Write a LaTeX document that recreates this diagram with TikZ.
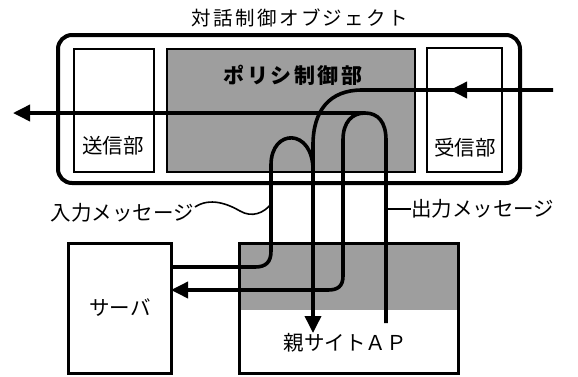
\documentclass[tikz,border=0pt]{standalone}
\usepackage{fontspec}
\newfontfamily\jp{Noto Sans CJK JP}
\newfontfamily\jpwide[LetterSpace=12]{Noto Sans CJK JP}
\usetikzlibrary{arrows.meta}
\tikzset{
  box/.style={draw=black, line width=2.6pt, inner sep=0pt, outer sep=0pt, anchor=north west},
  shade/.style={fill=black!38, draw=none, inner sep=0pt, outer sep=0pt, anchor=north west},
  lbl/.style={inner sep=0pt, font=\jp\fontsize{20.5}{20.5}\selectfont},
  conn/.style={line width=3.6pt, line join=round},
  tip/.style={-{Triangle[length=17pt,width=16pt]}},
  thinline/.style={line width=1.6pt}
}
\begin{document}
\begin{tikzpicture}[x=1pt,y=-1pt]
\useasboundingbox (0,0) rectangle (578,376);
% title
\node[lbl, font=\jpwide\fontsize{19.5}{19.5}\selectfont] (title) at (300,18) {対話制御オブジェクト};
% outer object
\node[box, line width=4pt, rounded corners=14pt, minimum width=462pt, minimum height=148pt] (obj) at (58,35) {};
% inner parts
\node[box, minimum width=80pt, minimum height=123pt] (send) at (74,49) {};
\node[box, line width=2pt, fill=black!38, minimum width=248pt, minimum height=123pt] (policy) at (167,49) {};
\node[box, minimum width=75pt, minimum height=124pt] (recv) at (427,48) {};
\node[lbl, font=\jpwide\bfseries\fontsize{21}{21}\selectfont] (policytxt) at (293,75) {ポリシ制御部};
\node[lbl] (sendtxt) at (113,146) {送信部};
\node[lbl] (recvtxt) at (465,148) {受信部};
% server and AP
\node[box, line width=3pt, minimum width=103pt, minimum height=130pt] (server) at (68,243) {};
\node[lbl] (servertxt) at (120,308) {サーバ};
\node[shade, minimum width=219pt, minimum height=67pt] (apshade) at (239,243) {};
\node[box, line width=3pt, minimum width=219pt, minimum height=130pt] (ap) at (239,243) {};
\node[lbl] (aptxt) at (345,343) {親サイトＡＰ};
% labels
\node[lbl, anchor=east] (inlab) at (194,213) {入力メッセージ};
\node[lbl, anchor=west] (outlab) at (411,209) {出力メッセージ};
% coordinates
\coordinate (inR) at (553,90);
\coordinate (apIn) at (313,333);
\coordinate (srvIn) at (171,267);
\coordinate (srvOut) at (171,290);
\coordinate (sendOut) at (13,113);
\coordinate (apOut) at (386,323);
\coordinate (archTop) at (365,113);
% incoming from right to AP
\draw[conn, tip] (inR) -- (362,90) .. controls (330,90) and (313,110) .. (313,145) -- (apIn);
\draw[conn, tip] (470,90) -- (450,90);
% input from server: small arch
\draw[conn] (srvIn) -- (255,267) .. controls (266,267) and (271,262) .. (271,251)
  -- (271,165) .. controls (271,128) and (313,128) .. (313,170);
% output from AP: big arch to sender
\draw[conn, tip] (apOut) -- (386,140) .. controls (386,122) and (378,113) .. (archTop) -- (sendOut);
% output from AP to server
\draw[conn, tip] (archTop) .. controls (352,113) and (343,122) .. (343,140) -- (343,276)
  .. controls (343,286) and (338,290) .. (328,290) -- (srvOut);
% label leaders
\draw[thinline] (inlab.east) ++(1,-6) .. controls (210,197) and (228,204) .. (240,211)
  .. controls (252,218) and (264,213) .. (271,204);
\draw[line width=2pt] (387,209) -- (outlab.west);
\end{tikzpicture}
\end{document}
